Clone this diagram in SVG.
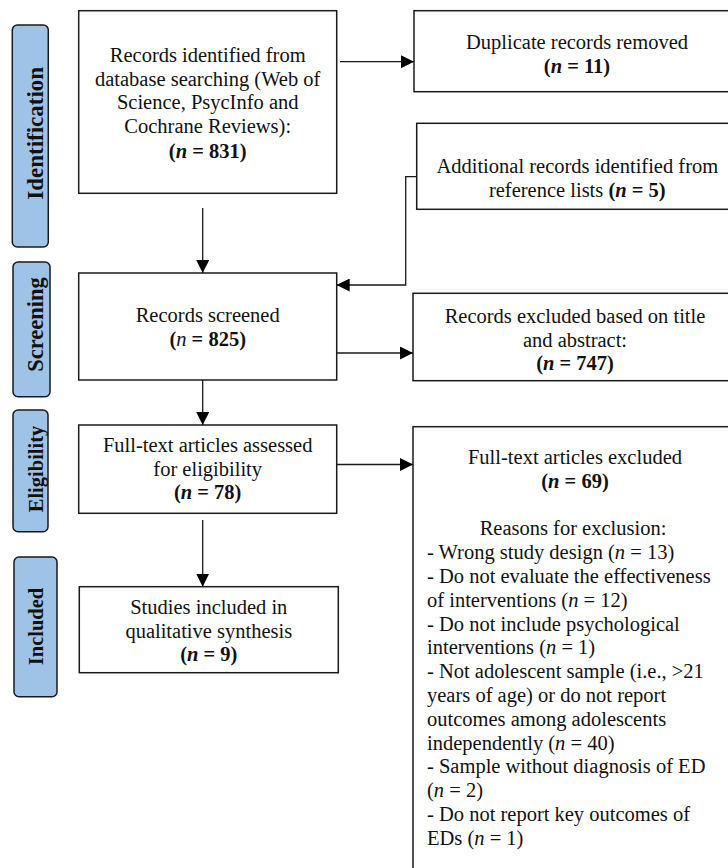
<svg xmlns="http://www.w3.org/2000/svg" width="728" height="868" viewBox="0 0 728 868">
<defs>
<style>
.box{fill:#fff;stroke:#1a1a1a;stroke-width:1.5}
.lab{fill:#9fc3e6;stroke:#1a1a1a;stroke-width:1.5}
.t{font-family:"Liberation Serif","Times New Roman",serif;font-size:20.5px;fill:#111}
.c{text-anchor:middle}
.b{font-weight:bold}
.i{font-style:italic}
.lt{font-family:"Liberation Serif","Times New Roman",serif;font-weight:bold;fill:#111;text-anchor:middle}
.conn{stroke:#1a1a1a;stroke-width:1.3;fill:none}
</style>
<marker id="ah" markerWidth="13" markerHeight="13" refX="13" refY="6.5" orient="auto" markerUnits="userSpaceOnUse"><path d="M0,0 L13,6.5 L0,13 z" fill="#000"/></marker>
</defs>
<rect width="728" height="868" fill="#fff"/>

<g id="label-identification">
<rect class="lab" x="12.3" y="25" width="36" height="222" rx="5"/>
<text class="lt" font-size="23" transform="translate(43.3,133.3) rotate(-90)">Identification</text>
</g>
<g id="label-screening">
<rect class="lab" x="13" y="262" width="37" height="134.7" rx="5"/>
<text class="lt" font-size="22.5" transform="translate(42.7,324.5) rotate(-90)">Screening</text>
</g>
<g id="label-eligibility">
<rect class="lab" x="13" y="410" width="35" height="121.7" rx="5"/>
<text class="lt" font-size="20.5" transform="translate(42.7,469) rotate(-90)">Eligibility</text>
</g>
<g id="label-included">
<rect class="lab" x="14" y="557" width="43" height="139.7" rx="5"/>
<text class="lt" font-size="20.5" transform="translate(43.3,626.5) rotate(-90)">Included</text>
</g>

<g id="records-identified">
<rect class="box" x="78.7" y="10.7" width="258" height="182.6"/>
<text class="t c" x="207.7" y="61.7">Records identified from</text>
<text class="t c" x="207.7" y="85.5">database searching (Web of</text>
<text class="t c" x="207.7" y="109.3">Science, PsycInfo and</text>
<text class="t c" x="207.7" y="133.1">Cochrane Reviews):</text>
<text class="t c b" x="207.7" y="157.5">(<tspan class="i">n</tspan> = 831)</text>
</g>

<g id="duplicates-removed">
<rect class="box" x="414" y="10.7" width="326" height="81"/>
<text class="t c" x="577" y="49.3">Duplicate records removed</text>
<text class="t c b" x="577" y="73.1">(<tspan class="i">n</tspan> = 11)</text>
</g>

<g id="additional-records">
<rect class="box" x="416.7" y="123.3" width="323" height="86"/>
<text class="t c" x="577.3" y="172.7">Additional records identified from</text>
<text class="t c" x="577.3" y="196.5">reference lists <tspan class="b">(<tspan class="i">n</tspan> = 5)</tspan></text>
</g>

<g id="records-screened">
<rect class="box" x="78.7" y="273" width="258" height="107"/>
<text class="t c" x="207.7" y="322.3">Records screened</text>
<text class="t c" x="207.7" y="346.1"><tspan class="b">(</tspan><tspan class="i">n</tspan><tspan class="b"> = 825)</tspan></text>
</g>

<g id="records-excluded">
<rect class="box" x="413" y="293.3" width="324" height="87.4"/>
<text class="t c" x="575" y="322.7">Records excluded based on title</text>
<text class="t c" x="575" y="346.5">and abstract:</text>
<text class="t c b" x="575" y="369.8">(<tspan class="i">n</tspan> = 747)</text>
</g>

<g id="fulltext-assessed">
<rect class="box" x="78.7" y="425" width="258" height="88.3"/>
<text class="t c" x="207.7" y="451.7">Full-text articles assessed</text>
<text class="t c" x="207.7" y="475.5">for eligibility</text>
<text class="t c b" x="207.7" y="499.3">(<tspan class="i">n</tspan> = 78)</text>
</g>

<g id="fulltext-excluded">
<rect class="box" x="413" y="426.7" width="324" height="480"/>
<text class="t c" x="575" y="464">Full-text articles excluded</text>
<text class="t c b" x="575" y="487.8">(<tspan class="i">n</tspan> = 69)</text>
<text class="t c" x="573" y="535.4">Reasons for exclusion:</text>
<text class="t" x="427" y="559.2">- Wrong study design (<tspan class="i">n</tspan> = 13)</text>
<text class="t" x="427" y="583">- Do not evaluate the effectiveness</text>
<text class="t" x="427" y="606.8">of interventions (<tspan class="i">n</tspan> = 12)</text>
<text class="t" x="427" y="630.6">- Do not include psychological</text>
<text class="t" x="427" y="654.4">interventions (<tspan class="i">n</tspan> = 1)</text>
<text class="t" x="427" y="678.2">- Not adolescent sample (i.e., &gt;21</text>
<text class="t" x="427" y="702">years of age) or do not report</text>
<text class="t" x="427" y="725.8">outcomes among adolescents</text>
<text class="t" x="427" y="749.6">independently (<tspan class="i">n</tspan> = 40)</text>
<text class="t" x="427" y="773.4">- Sample without diagnosis of ED</text>
<text class="t" x="427" y="797.2">(<tspan class="i">n</tspan> = 2)</text>
<text class="t" x="427" y="821">- Do not report key outcomes of</text>
<text class="t" x="427" y="844.8">EDs (<tspan class="i">n</tspan> = 1)</text>
</g>

<g id="studies-included">
<rect class="box" x="79.3" y="586.7" width="259" height="86"/>
<text class="t c" x="208.8" y="614">Studies included in</text>
<text class="t c" x="208.8" y="637.8">qualitative synthesis</text>
<text class="t c b" x="208.8" y="661.2">(<tspan class="i">n</tspan> = 9)</text>
</g>

<g id="connectors">
<path class="conn" d="M340,61.7 H414" marker-end="url(#ah)"/>
<path class="conn" d="M202.7,208 V273" marker-end="url(#ah)"/>
<path class="conn" d="M416.7,176.7 H405.7 V285 H336.7" marker-end="url(#ah)"/>
<path class="conn" d="M336.7,353 H413" marker-end="url(#ah)"/>
<path class="conn" d="M202.7,380 V425" marker-end="url(#ah)"/>
<path class="conn" d="M336.7,464.5 H413" marker-end="url(#ah)"/>
<path class="conn" d="M202.7,520 V586.7" marker-end="url(#ah)"/>
</g>
</svg>
